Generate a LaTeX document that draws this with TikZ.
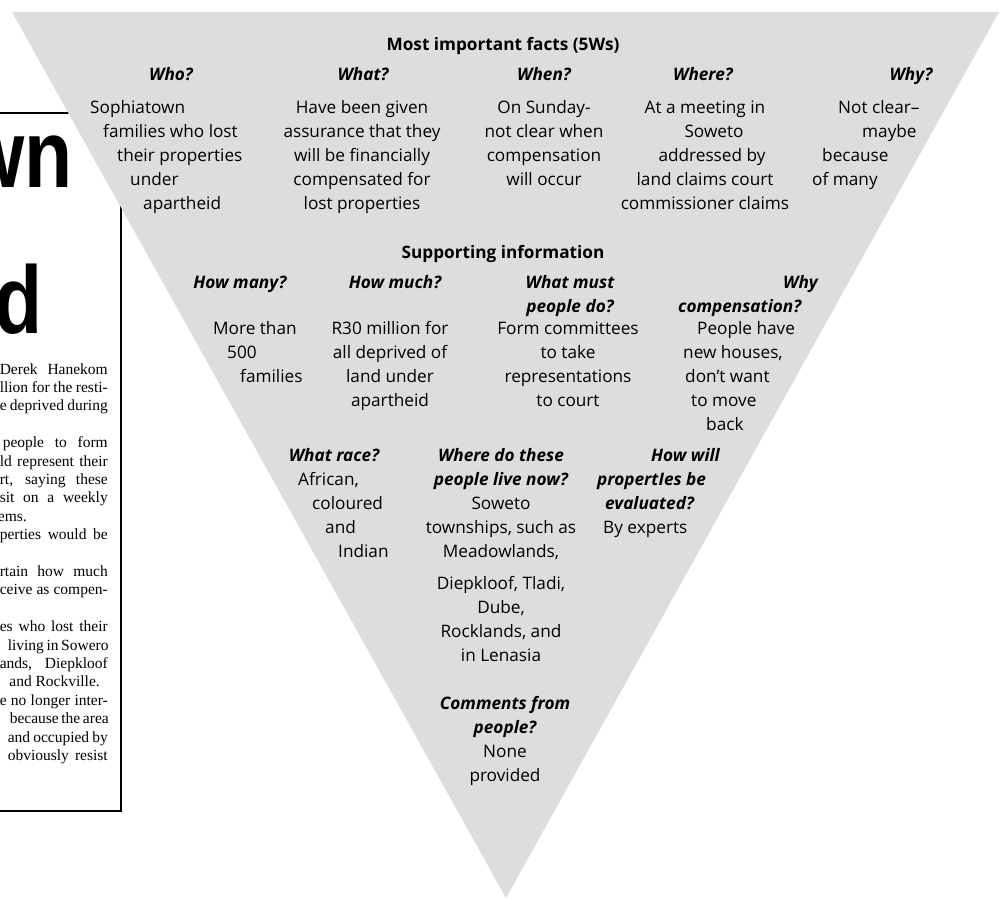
\documentclass[tikz,border=0pt]{standalone}
\usepackage{fontspec}
\setmainfont{Open Sans}
\newfontfamily\serifart{Liberation Serif}
\newfontfamily\headfont{Liberation Sans}
\definecolor{trigray}{RGB}{220,221,223}
\newcommand\ctrlines[5]{%
  \foreach \off/\lin [count=\i] in {#5} {\node[#1, anchor=base] (#2\i) at ({#3+\off}, {#4+24*(\i-1)}) {\lin};}}
\newcommand\leftlines[5]{%
  \foreach \off/\lin [count=\i] in {#5} {\node[#1, anchor=base west] (#2\i) at ({#3+\off}, {#4+24*(\i-1)}) {\lin};}}
\tikzset{
  txt/.style={font=\fontsize{17.2}{24}\selectfont, inner sep=0pt},
  hdr/.style={font=\fontsize{17.2}{24}\selectfont\bfseries\itshape, inner sep=0pt},
  ttl/.style={font=\fontsize{17.2}{24}\selectfont\bfseries, inner sep=0pt},
  art/.style={font=\serifart\fontsize{15.5}{18}\selectfont, inner sep=0pt, anchor=base east},
  head/.style={font=\headfont\bfseries\fontsize{96}{100}\selectfont, inner sep=0pt, anchor=base east},
  rule/.style={line width=1.5pt},
  shadowrule/.style={line width=2.6pt}
}
\begin{document}
\begin{tikzpicture}[x=1pt,y=-1pt]
\useasboundingbox (0,0) rectangle (1006,899);
\clip (0,0) rectangle (1006,899);
% ---- article behind the triangle ----
\coordinate (tl) at (0,113);
\coordinate (tr) at (100,113);
\coordinate (rt) at (121,113);
\coordinate (rb) at (121,811);
\coordinate (lb) at (0,811);
\draw[rule] (tl) -- (tr);
\draw[shadowrule] (rt) -- (rb) -- (lb);
\node[head] (hl1) at (73,187) {\scalebox{0.82}[1]{wn}};
\node[head] (hl2) at (43,333) {\scalebox{0.82}[1]{d}};
\node[art] (a1) at (108,374) {\makebox[108pt][s]{Derek Hanekom}};
\node[art] (a2) at (108,392.4) {\makebox[108pt][s]{llion for the resti-}};
\node[art] (a3) at (108,410.8) {\makebox[108pt][s]{e deprived during}};
\node[art] (a4) at (108,447.6) {\makebox[105pt][s]{people to form}};
\node[art] (a5) at (108,466) {\makebox[108pt][s]{ld represent their}};
\node[art] (a6) at (108,484.4) {\makebox[108pt][s]{rt, saying these}};
\node[art] (a7) at (108,502.8) {\makebox[108pt][s]{sit on a weekly}};
\node[art] (a8) at (27,521.2) {ems.};
\node[art] (a9) at (108,539.6) {\makebox[108pt][s]{perties would be}};
\node[art] (a10) at (108,576.4) {\makebox[108pt][s]{rtain how much}};
\node[art] (a11) at (108,594.8) {\makebox[108pt][s]{ceive as compen-}};
\node[art] (a12) at (108,631.6) {\makebox[108pt][s]{es who lost their}};
\node[art] (a13) at (108,650) {\makebox[100pt][s]{living in Sowero}};
\node[art] (a14) at (108,668.4) {\makebox[108pt][s]{ands, Diepkloof}};
\node[art] (a15) at (100,686.8) {and Rockville.};
\node[art] (a16) at (108,705.2) {\makebox[108pt][s]{e no longer inter-}};
\node[art] (a17) at (108,723.6) {\makebox[98pt][s]{because the area}};
\node[art] (a18) at (108,742) {\makebox[100pt][s]{and occupied by}};
\node[art] (a19) at (108,760.4) {\makebox[100pt][s]{obviously resist}};
% ---- inverted triangle ----
\coordinate (c1) at (12,12);
\coordinate (c2) at (999,12);
\coordinate (c3) at (506,898);
\fill[trigray] (c1) -- (c2) -- (c3) -- cycle;
% ---- 5Ws ----
\node[ttl, anchor=base] (title) at (503,51) {Most important facts (5Ws)};
\node[hdr, anchor=base] (hwho) at (171,81) {Who?};
\node[hdr, anchor=base] (hwhat) at (363,81) {What?};
\node[hdr, anchor=base] (hwhen) at (544,81) {When?};
\node[hdr, anchor=base] (hwhere) at (703,81) {Where?};
\node[hdr, anchor=base] (hwhy) at (911,81) {Why?};
\leftlines{txt}{who}{90}{113}{0/Sophiatown, 13/families who lost, 27/their properties, 40/under, 53/apartheid}
\ctrlines{txt}{what}{362}{113}{0/Have been given, 0/assurance that they, 0/will be financially, 0/compensated for, 0/lost properties}
\ctrlines{txt}{when}{544}{113}{0/On Sunday-, 0/not clear when, 0/compensation, 0/will occur}
\ctrlines{txt}{where}{705}{113}{0/At a meeting in, 9/Soweto, 7/addressed by, 0/land claims court, 0/commissioner claims}
\leftlines{txt}{why}{812}{113}{26/Not clear–, 50/maybe, 10/because, 0/of many}
% ---- supporting information ----
\node[ttl, anchor=base] (sup) at (503,258) {Supporting information};
\node[hdr, anchor=base] (hmany) at (240,288) {How many?};
\node[hdr, anchor=base] (hmuch) at (395,288) {How much?};
\ctrlines{hdr}{hmust}{570}{288}{0/What must, 0/people do?}
\leftlines{hdr}{hcomp}{678}{288}{105/Why, 0/compensation?}
\leftlines{txt}{many}{213}{334}{0/More than, 14/500, 27/families}
\ctrlines{txt}{much}{390}{334}{0/R30 million for, 0/all deprived of, 0/land under, 0/apartheid}
\ctrlines{txt}{must}{568}{334}{0/Form committees, 0/to take, 0/representations, 0/to court}
\leftlines{txt}{comp}{683}{334}{14/People have, 0/{new houses,}, 2/don't want, 8/to move, 23/back}
\node[hdr, anchor=base] (hrace) at (334,461) {What race?};
\leftlines{txt}{race}{298}{485}{0/{African,}, 14/coloured, 27/and, 40/Indian}
\ctrlines{hdr}{hlive}{501}{461}{0/Where do these, 0/people live now?}
\ctrlines{txt}{live}{501}{509}{0/Soweto, 0/{townships, such as}, 0/{Meadowlands,}}
\ctrlines{txt}{livb}{501}{589}{0/{Diepkloof, Tladi,}, 0/{Dube,}, 0/{Rocklands, and}, 0/in Lenasia}
\leftlines{hdr}{heval}{597}{461}{54/How will, 0/propertIes be, 8/evaluated?}
\node[txt, anchor=base west] (eval) at (603,533) {By experts};
\ctrlines{hdr}{hcom}{505}{709}{0/Comments from, 0/people?}
\ctrlines{txt}{com}{505}{757}{0/None, 0/provided}
\end{tikzpicture}
\end{document}
